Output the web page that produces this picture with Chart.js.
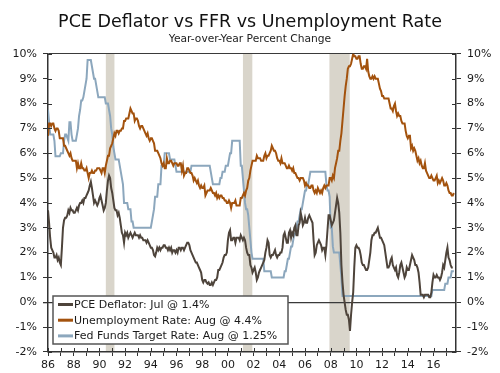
<!DOCTYPE html>
<html><head><meta charset="utf-8">
<script src="https://cdn.jsdelivr.net/npm/chart.js@4.4.0/dist/chart.umd.min.js"></script>
<style>html,body{margin:0;padding:0;background:#fff}#wrap{width:500px;height:373px;position:relative}</style>
</head><body><div id="wrap"><canvas id="c" width="500" height="373"></canvas></div>
<script>
// ---- DATA (monthly, starting Jan 1986) ----
const startYear = 1986;
const titleText = 'PCE Deflator vs FFR vs Unemployment Rate';
const subtitleText = 'Year-over-Year Percent Change';
const seriesLabels = ['PCE Deflator: Jul @ 1.4%', 'Unemployment Rate: Aug @ 4.4%', 'Fed Funds Target Rate: Aug @ 1.25%'];

const pce = [
 3.7,3.2,2.6,2.2,2.1,2.0,1.8,1.8,1.9,1.7,1.8,1.6,   // 1986
 1.5,2.2,3.0,3.3,3.4,3.4,3.5,3.7,3.6,3.8,3.7,3.7,   // 1987
 3.6,3.6,3.7,3.8,3.7,3.9,4.0,4.0,4.1,4.0,4.2,4.2,   // 1988
 4.3,4.4,4.5,4.7,4.85,4.6,4.3,4.0,4.1,4.0,3.9,4.0,  // 1989
 4.2,4.3,4.1,3.9,3.7,3.8,4.0,4.5,4.9,5.1,5.0,4.6,   // 1990
 4.4,4.1,3.8,3.7,3.7,3.5,3.6,3.4,3.1,2.8,2.7,2.4,   // 1991
 2.8,2.7,2.8,2.6,2.7,2.8,2.7,2.6,2.7,2.8,2.7,2.7,   // 1992
 2.7,2.6,2.7,2.6,2.6,2.5,2.5,2.5,2.4,2.5,2.4,2.3,   // 1993
 2.2,2.2,2.1,1.9,1.85,2.0,2.2,2.1,2.2,2.1,2.2,2.2,  // 1994
 2.3,2.3,2.2,2.2,2.1,2.2,2.1,2.2,2.0,2.1,2.1,2.0,   // 1995
 2.1,2.0,2.2,2.2,2.1,2.2,2.2,2.1,2.2,2.3,2.4,2.4,   // 1996
 2.3,2.1,2.0,1.9,1.8,1.7,1.6,1.6,1.5,1.4,1.3,1.2,   // 1997
 0.9,0.8,0.9,0.9,0.8,0.75,0.8,0.7,0.7,0.8,0.7,0.8,  // 1998
 0.9,0.9,1.0,1.3,1.3,1.4,1.5,1.6,1.8,1.9,1.9,2.0,   // 1999
 2.5,2.8,2.9,2.5,2.5,2.6,2.6,2.4,2.6,2.6,2.6,2.5,   // 2000
 2.7,2.6,2.5,2.6,2.5,2.2,2.0,1.9,1.9,1.5,1.4,1.2,   // 2001
 1.3,1.4,1.2,0.9,1.0,1.2,1.3,1.4,1.5,1.6,1.7,2.0,   // 2002
 2.2,2.5,2.4,1.9,1.8,1.9,1.9,2.0,2.1,1.9,1.8,1.9,   // 2003
 1.9,2.0,2.0,2.2,2.7,2.8,2.6,2.4,2.4,2.8,2.9,2.6,   // 2004
 2.8,2.7,3.0,3.1,2.7,2.7,3.1,3.2,3.6,3.4,3.1,3.2,   // 2005
 3.4,3.2,3.2,3.4,3.5,3.4,3.3,3.2,2.5,1.9,2.0,2.3,   // 2006
 2.4,2.5,2.4,2.3,2.1,2.2,2.2,1.9,2.3,2.9,3.5,3.5,   // 2007
 3.3,3.1,3.2,3.3,3.6,3.9,4.2,4.0,3.6,2.8,1.5,0.8,   // 2008
 0.3,0.0,-0.3,-0.5,-0.5,-0.7,-1.15,-0.5,0.0,0.4,1.4,2.2, // 2009
 2.3,2.2,2.2,2.1,1.9,1.6,1.5,1.5,1.4,1.3,1.3,1.4,   // 2010
 1.7,2.0,2.5,2.7,2.7,2.8,2.8,2.9,3.0,2.8,2.6,2.6,   // 2011
 2.5,2.4,2.3,2.0,1.7,1.4,1.4,1.5,1.7,1.8,1.5,1.4,   // 2012
 1.3,1.4,1.1,1.0,1.2,1.5,1.6,1.4,1.2,1.0,1.1,1.4,   // 2013
 1.3,1.3,1.5,1.7,1.9,1.8,1.7,1.5,1.5,1.4,1.2,0.8,   // 2014
 0.3,0.3,0.3,0.2,0.3,0.3,0.3,0.3,0.2,0.2,0.4,0.8,   // 2015
 1.1,1.0,1.0,1.1,1.0,1.0,0.9,1.0,1.2,1.5,1.4,1.7,   // 2016
 2.0,2.2,1.8,1.7,1.5,1.4,1.4                        // 2017
];

const unemp = [
 6.7,7.2,7.2,7.1,7.2,7.2,7.0,6.9,7.0,7.0,6.9,6.6,   // 1986
 6.6,6.6,6.6,6.3,6.3,6.2,6.1,6.0,5.9,6.0,5.8,5.7,   // 1987
 5.7,5.7,5.7,5.4,5.6,5.4,5.4,5.6,5.4,5.4,5.3,5.3,   // 1988
 5.4,5.2,5.0,5.2,5.2,5.3,5.2,5.2,5.3,5.3,5.4,5.4,   // 1989
 5.4,5.3,5.2,5.4,5.4,5.2,5.5,5.7,5.9,5.9,6.2,6.3,   // 1990
 6.4,6.6,6.8,6.7,6.9,6.9,6.8,6.9,6.9,7.0,7.0,7.3,   // 1991
 7.3,7.4,7.4,7.4,7.6,7.8,7.7,7.6,7.6,7.3,7.4,7.4,   // 1992
 7.3,7.1,7.0,7.1,7.1,7.0,6.9,6.8,6.7,6.8,6.6,6.5,   // 1993
 6.6,6.6,6.5,6.4,6.1,6.1,6.1,6.0,5.9,5.8,5.6,5.5,   // 1994
 5.6,5.4,5.4,5.8,5.6,5.6,5.7,5.7,5.6,5.5,5.6,5.6,   // 1995
 5.6,5.5,5.5,5.6,5.6,5.3,5.5,5.1,5.2,5.2,5.4,5.4,   // 1996
 5.3,5.2,5.2,5.1,4.9,5.0,4.9,4.8,4.9,4.7,4.6,4.7,   // 1997
 4.6,4.6,4.7,4.3,4.4,4.5,4.5,4.5,4.6,4.5,4.4,4.4,   // 1998
 4.3,4.4,4.2,4.3,4.2,4.3,4.3,4.2,4.2,4.1,4.1,4.0,   // 1999
 4.0,4.1,4.0,3.8,4.0,4.0,4.0,4.1,3.9,3.9,3.9,3.9,   // 2000
 4.2,4.2,4.3,4.4,4.3,4.5,4.6,4.9,5.0,5.3,5.5,5.7,   // 2001
 5.7,5.7,5.7,5.9,5.8,5.8,5.8,5.7,5.7,5.7,5.9,6.0,   // 2002
 5.8,5.9,5.9,6.0,6.1,6.3,6.2,6.1,6.1,6.0,5.8,5.7,   // 2003
 5.7,5.6,5.8,5.6,5.6,5.6,5.5,5.4,5.4,5.5,5.4,5.4,   // 2004
 5.3,5.4,5.2,5.2,5.1,5.0,5.0,4.9,5.0,5.0,5.0,4.9,   // 2005
 4.7,4.8,4.7,4.7,4.6,4.6,4.7,4.7,4.5,4.4,4.5,4.4,   // 2006
 4.6,4.5,4.4,4.5,4.4,4.6,4.7,4.6,4.7,4.7,4.7,5.0,   // 2007
 5.0,4.9,5.1,5.0,5.4,5.6,5.8,6.1,6.1,6.5,6.8,7.3,   // 2008
 7.8,8.3,8.7,9.0,9.4,9.5,9.5,9.6,9.8,10.0,9.9,9.9,  // 2009
 9.8,9.8,9.9,9.9,9.6,9.4,9.4,9.5,9.5,9.4,9.8,9.3,   // 2010
 9.1,9.0,9.0,9.1,9.0,9.1,9.0,9.0,9.0,8.8,8.6,8.5,   // 2011
 8.3,8.3,8.2,8.2,8.2,8.2,8.2,8.0,7.8,7.8,7.7,7.9,   // 2012
 8.0,7.7,7.5,7.6,7.5,7.5,7.3,7.2,7.2,7.2,6.9,6.7,   // 2013
 6.6,6.7,6.7,6.2,6.3,6.1,6.2,6.1,5.9,5.7,5.8,5.6,   // 2014
 5.7,5.5,5.4,5.4,5.6,5.3,5.2,5.1,5.0,5.0,5.1,5.0,   // 2015
 4.9,4.9,5.0,5.1,4.8,4.9,4.8,4.9,5.0,4.9,4.7,4.7,   // 2016
 4.8,4.7,4.5,4.4,4.4,4.3,4.3,4.4                    // 2017
];

const ffr = [
 7.75,7.25,6.75,6.75,6.75,6.75,6.5,5.875,5.875,5.875,5.875,5.875, // 1986
 6.0,6.0,6.0,6.5,6.75,6.75,6.625,6.5,7.25,7.25,6.75,6.5,          // 1987
 6.5,6.5,6.5,6.75,7.0,7.5,7.75,8.125,8.125,8.25,8.5,8.75,         // 1988
 9.0,9.75,9.75,9.75,9.75,9.5,9.25,9.0,9.0,8.75,8.5,8.25,          // 1989
 8.25,8.25,8.25,8.25,8.25,8.25,8.0,8.0,8.0,7.75,7.5,7.0,          // 1990
 6.75,6.25,6.0,5.75,5.75,5.75,5.75,5.5,5.25,5.0,4.75,4.0,         // 1991
 4.0,4.0,4.0,3.75,3.75,3.75,3.25,3.25,3.0,3.0,3.0,3.0,            // 1992
 3.0,3.0,3.0,3.0,3.0,3.0,3.0,3.0,3.0,3.0,3.0,3.0,                 // 1993
 3.0,3.25,3.5,3.75,4.25,4.25,4.25,4.75,4.75,4.75,5.5,5.5,         // 1994
 5.5,6.0,6.0,6.0,6.0,6.0,5.75,5.75,5.75,5.75,5.75,5.5,            // 1995
 5.25,5.25,5.25,5.25,5.25,5.25,5.25,5.25,5.25,5.25,5.25,5.25,     // 1996
 5.25,5.25,5.5,5.5,5.5,5.5,5.5,5.5,5.5,5.5,5.5,5.5,               // 1997
 5.5,5.5,5.5,5.5,5.5,5.5,5.5,5.5,5.25,5.0,4.75,4.75,              // 1998
 4.75,4.75,4.75,4.75,4.75,5.0,5.0,5.25,5.25,5.25,5.5,5.5,         // 1999
 5.5,5.75,6.0,6.0,6.5,6.5,6.5,6.5,6.5,6.5,6.5,6.5,                // 2000
 5.5,5.5,5.0,4.5,4.0,3.75,3.75,3.5,3.0,2.5,2.0,1.75,              // 2001
 1.75,1.75,1.75,1.75,1.75,1.75,1.75,1.75,1.75,1.75,1.25,1.25,     // 2002
 1.25,1.25,1.25,1.25,1.25,1.0,1.0,1.0,1.0,1.0,1.0,1.0,            // 2003
 1.0,1.0,1.0,1.0,1.0,1.25,1.25,1.5,1.75,1.75,2.0,2.25,            // 2004
 2.25,2.5,2.75,2.75,3.0,3.25,3.25,3.5,3.75,3.75,4.0,4.25,         // 2005
 4.5,4.5,4.75,4.75,5.0,5.25,5.25,5.25,5.25,5.25,5.25,5.25,        // 2006
 5.25,5.25,5.25,5.25,5.25,5.25,5.25,5.25,4.75,4.5,4.5,4.25,       // 2007
 3.0,3.0,2.25,2.0,2.0,2.0,2.0,2.0,2.0,1.5,1.0,0.25,               // 2008
 0.25,0.25,0.25,0.25,0.25,0.25,0.25,0.25,0.25,0.25,0.25,0.25,     // 2009
 0.25,0.25,0.25,0.25,0.25,0.25,0.25,0.25,0.25,0.25,0.25,0.25,     // 2010
 0.25,0.25,0.25,0.25,0.25,0.25,0.25,0.25,0.25,0.25,0.25,0.25,     // 2011
 0.25,0.25,0.25,0.25,0.25,0.25,0.25,0.25,0.25,0.25,0.25,0.25,     // 2012
 0.25,0.25,0.25,0.25,0.25,0.25,0.25,0.25,0.25,0.25,0.25,0.25,     // 2013
 0.25,0.25,0.25,0.25,0.25,0.25,0.25,0.25,0.25,0.25,0.25,0.25,     // 2014
 0.25,0.25,0.25,0.25,0.25,0.25,0.25,0.25,0.25,0.25,0.25,0.5,      // 2015
 0.5,0.5,0.5,0.5,0.5,0.5,0.5,0.5,0.5,0.5,0.5,0.75,                // 2016
 0.75,0.75,1.0,1.0,1.0,1.25,1.25,1.25                             // 2017
];

// recession periods (decimal years)
const recStart = [1990.5, 2001.17, 2007.9];
const recEnd   = [1991.17, 2001.9, 2009.48];

// axis ticks
const yTickValues = [-2,-1,0,1,2,3,4,5,6,7,8,9,10];
const xLabelYears = [1986,1988,1990,1992,1994,1996,1998,2000,2002,2004,2006,2008,2010,2012,2014,2016];
const xLabelTexts = ['86','88','90','92','94','96','98','00','02','04','06','08','10','12','14','16'];

// ---- COLOURS / STYLE ----
const colPCE = '#4e443b';
const colUN  = '#a3520d';
const colFFR = '#8ca7bd';
const colRec = '#d9d5cb';
const axisCol = '#333333';
const FONT = 'DejaVu Sans';

const toPoints = arr => arr.map((v,i) => ({x: startYear + i/12, y: v}));

const decor = {
  id: 'decor',
  beforeDraw(chart) {
    const {ctx, chartArea: a, scales: {x}} = chart;
    ctx.save();
    ctx.fillStyle = colRec;
    recStart.forEach((s, i) => {
      const x0 = x.getPixelForValue(s), x1 = x.getPixelForValue(recEnd[i]);
      ctx.fillRect(x0, a.top, x1 - x0, a.bottom - a.top);
    });
    ctx.restore();
  },
  afterDraw(chart) {
    const {ctx, chartArea: a, scales: {x, y}} = chart;
    ctx.save();
    // inner halves of tick marks
    ctx.strokeStyle = axisCol; ctx.lineWidth = 1;
    ctx.beginPath();
    yTickValues.forEach(v => {
      const py = Math.round(y.getPixelForValue(v)) + 0.5;
      ctx.moveTo(a.left, py); ctx.lineTo(a.left + 4, py);
      ctx.moveTo(a.right - 4, py); ctx.lineTo(a.right, py);
    });
    for (let yr = 1986; yr <= 2017; yr++) {
      const px = Math.round(x.getPixelForValue(yr)) + 0.5;
      ctx.moveTo(px, a.bottom - 4); ctx.lineTo(px, a.bottom);
    }
    ctx.stroke();

    // legend box
    const cols = [colPCE, colUN, colFFR];
    const bx = a.left + 5, by = a.bottom - 56, bw = 235, bh = 48;
    ctx.fillStyle = '#ffffff';
    ctx.fillRect(bx, by, bw, bh);
    ctx.strokeStyle = '#555555'; ctx.lineWidth = 1.5;
    ctx.strokeRect(bx, by, bw, bh);
    ctx.font = '11px "' + FONT + '"';
    ctx.textBaseline = 'middle'; ctx.textAlign = 'left';
    seriesLabels.forEach((lab, i) => {
      const ly = by + 8.5 + i * 15.7;
      ctx.strokeStyle = cols[i]; ctx.lineWidth = 3;
      ctx.beginPath(); ctx.moveTo(bx + 5, ly); ctx.lineTo(bx + 20, ly); ctx.stroke();
      ctx.fillStyle = '#1a1a1a';
      ctx.fillText(lab, bx + 21, ly + 0.5);
    });
    ctx.restore();
  }
};

const yCommon = {
  min: -2, max: 10,
  afterBuildTicks: s => { s.ticks = yTickValues.map(v => ({value: v})); },
  ticks: { padding: 6, color: '#1a1a1a', font: {family: FONT, size: 11}, callback: v => v + '%' },
  border: { color: axisCol, width: 1.5 }
};

new Chart(document.getElementById('c'), {
  type: 'line',
  data: {
    datasets: [
      { label: seriesLabels[0], data: toPoints(pce),   borderColor: colPCE, borderWidth: 2, pointRadius: 0, tension: 0 },
      { label: seriesLabels[1], data: toPoints(unemp), borderColor: colUN,  borderWidth: 2, pointRadius: 0, tension: 0 },
      { label: seriesLabels[2], data: toPoints(ffr),   borderColor: colFFR, borderWidth: 2, pointRadius: 0, tension: 0 }
    ]
  },
  options: {
    responsive: false, animation: false, devicePixelRatio: 1,
    layout: { padding: 0 },
    plugins: {
      legend: { display: false }, tooltip: { enabled: false },
      title: { display: true, text: titleText, color: '#111', font: {family: FONT, size: 17.5, weight: 'normal'}, padding: {top: 12, bottom: 0} },
      subtitle: { display: true, text: subtitleText, color: '#222', font: {family: FONT, size: 10.7, weight: 'normal'}, padding: {top: 0, bottom: 8} }
    },
    scales: {
      x: {
        type: 'linear', min: 1986, max: 2017.75,
        afterFit: s => { s.height = 21; },
        afterBuildTicks: s => { const t = []; for (let yr = 1986; yr <= 2017; yr++) t.push({value: yr}); s.ticks = t; },
        ticks: { autoSkip: false, maxRotation: 0, padding: 3, color: '#1a1a1a', font: {family: FONT, size: 11},
                 callback: v => { const k = xLabelYears.indexOf(v); return k >= 0 ? xLabelTexts[k] : ''; } },
        grid: { drawOnChartArea: false, tickLength: 4, color: axisCol },
        border: { color: axisCol, width: 1.5 }
      },
      y: Object.assign({}, yCommon, {
        position: 'left',
        afterFit: s => { s.width = 48; },
        grid: { drawOnChartArea: true, tickLength: 5, tickColor: axisCol,
                color: c => (c.tick && (c.tick.value === 0 || c.tick.value === 10)) ? '#3a3a3a' : 'rgba(0,0,0,0)',
                lineWidth: c => (c.tick && c.tick.value === 0) ? 1.3 : 1 }
      }),
      y2: Object.assign({}, yCommon, {
        position: 'right',
        afterFit: s => { s.width = 44; },
        grid: { drawOnChartArea: false, tickLength: 5, color: axisCol }
      })
    }
  },
  plugins: [decor]
});
</script>
</body></html>
